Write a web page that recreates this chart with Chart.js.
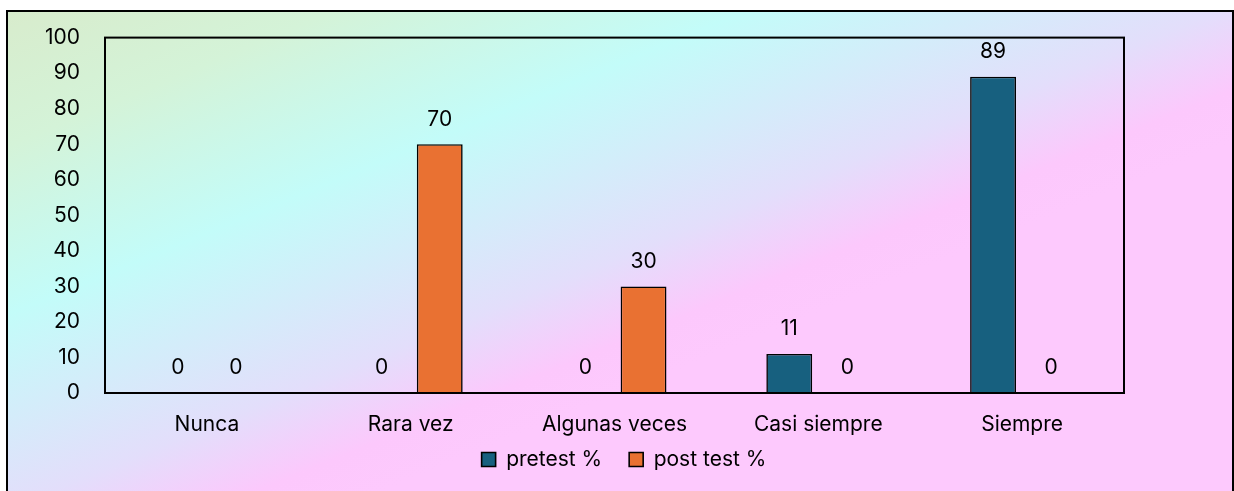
<!DOCTYPE html>
<html>
<head>
<meta charset="utf-8">
<script src="https://cdn.jsdelivr.net/npm/chart.js@4/dist/chart.umd.min.js"></script>
<style>
  html, body { margin: 0; padding: 0; background: #ffffff; overflow: hidden; }
  #wrap { width: 1234px; height: 491px; position: relative; }
</style>
</head>
<body>
<div id="wrap"><canvas id="c" width="1234" height="491"></canvas></div>
<script>
// Response categories and percentages per test
const categories = ['Nunca', 'Rara vez', 'Algunas veces', 'Casi siempre', 'Siempre'];
const pretest = [0, 0, 0, 11, 89];
const postTest = [0, 70, 30, 0, 0];
const seriesNames = ['pretest %', 'post test %'];
const yMin = 0;
const yMax = 100;
const yStep = 10;

const FONT = "Inter, 'Open Sans', sans-serif";
const FONT_SIZE = 21;
Chart.defaults.font.family = FONT;
Chart.defaults.font.size = FONT_SIZE;
Chart.defaults.color = '#000000';

// Diagonal pastel background with the outer frame
const backgroundPlugin = {
  id: 'panelBackground',
  beforeDraw(chart) {
    const ctx = chart.ctx;
    ctx.save();
    ctx.fillStyle = '#ffffff';
    ctx.fillRect(0, 0, chart.width, chart.height);
    const g = ctx.createLinearGradient(0, 0, 228, 555);
    g.addColorStop(0.00, '#d8ebcb');
    g.addColorStop(0.23, '#d4f3d8');
    g.addColorStop(0.49, '#c3fcf9');
    g.addColorStop(0.79, '#e3defb');
    g.addColorStop(0.92, '#fcc8fc');
    g.addColorStop(1.00, '#fdc9fd');
    ctx.fillStyle = g;
    ctx.fillRect(7, 11, 1226, 500);
    ctx.lineWidth = 2;
    ctx.strokeStyle = '#000000';
    ctx.strokeRect(7, 11, 1226, 500);
    ctx.restore();
  },
  afterDatasetsDraw(chart) {
    const {ctx, chartArea: a} = chart;
    ctx.save();
    ctx.lineWidth = 2;
    ctx.strokeStyle = '#000000';
    ctx.strokeRect(a.left, a.top, a.right - a.left, a.bottom - a.top);
    ctx.restore();
  }
};

// Value labels above each bar
const valueLabels = {
  id: 'valueLabels',
  afterDatasetsDraw(chart) {
    const ctx = chart.ctx;
    ctx.save();
    ctx.font = FONT_SIZE + 'px ' + FONT;
    ctx.fillStyle = '#000000';
    ctx.textAlign = 'center';
    ctx.textBaseline = 'middle';
    chart.data.datasets.forEach((ds, di) => {
      const meta = chart.getDatasetMeta(di);
      meta.data.forEach((bar, i) => {
        ctx.fillText(String(ds.data[i]), bar.x, bar.y - 25);
      });
    });
    ctx.restore();
  }
};

new Chart(document.getElementById('c'), {
  type: 'bar',
  data: {
    labels: categories,
    datasets: [
      {
        label: seriesNames[0],
        data: pretest,
        backgroundColor: '#17607f',
        borderColor: '#000000',
        borderWidth: 1.6,
        categoryPercentage: 0.57,
        barPercentage: 0.79
      },
      {
        label: seriesNames[1],
        data: postTest,
        backgroundColor: '#e97132',
        borderColor: '#000000',
        borderWidth: 1.6,
        categoryPercentage: 0.57,
        barPercentage: 0.79
      }
    ]
  },
  options: {
    responsive: false,
    animation: false,
    layout: { padding: { left: 14, right: 0, top: 36, bottom: 11 } },
    plugins: {
      legend: {
        position: 'bottom',
        labels: {
          boxWidth: 14,
          boxHeight: 14,
          padding: 27,
          color: '#000000',
          font: { size: FONT_SIZE, family: FONT }
        }
      },
      tooltip: { enabled: false }
    },
    scales: {
      x: {
        grid: { display: false, drawTicks: false },
        border: { display: false },
        // mirrored with a negative padding so the labels sit below the axis
        // without being clipped to the short axis box
        ticks: { mirror: true, padding: -44, font: { size: FONT_SIZE } },
        afterFit(scale) { scale.height = 29; }
      },
      y: {
        min: yMin,
        max: yMax,
        grid: { display: false, drawTicks: false },
        border: { display: false },
        ticks: { stepSize: yStep, padding: 25, font: { size: FONT_SIZE } },
        afterFit(scale) { scale.width = 91; }
      },
      yRight: {
        position: 'right',
        display: true,
        min: yMin,
        max: yMax,
        grid: { display: false, drawTicks: false },
        border: { display: false },
        ticks: { display: false },
        afterFit(scale) { scale.width = 110; }
      }
    }
  },
  plugins: [backgroundPlugin, valueLabels]
});
</script>
</body>
</html>
